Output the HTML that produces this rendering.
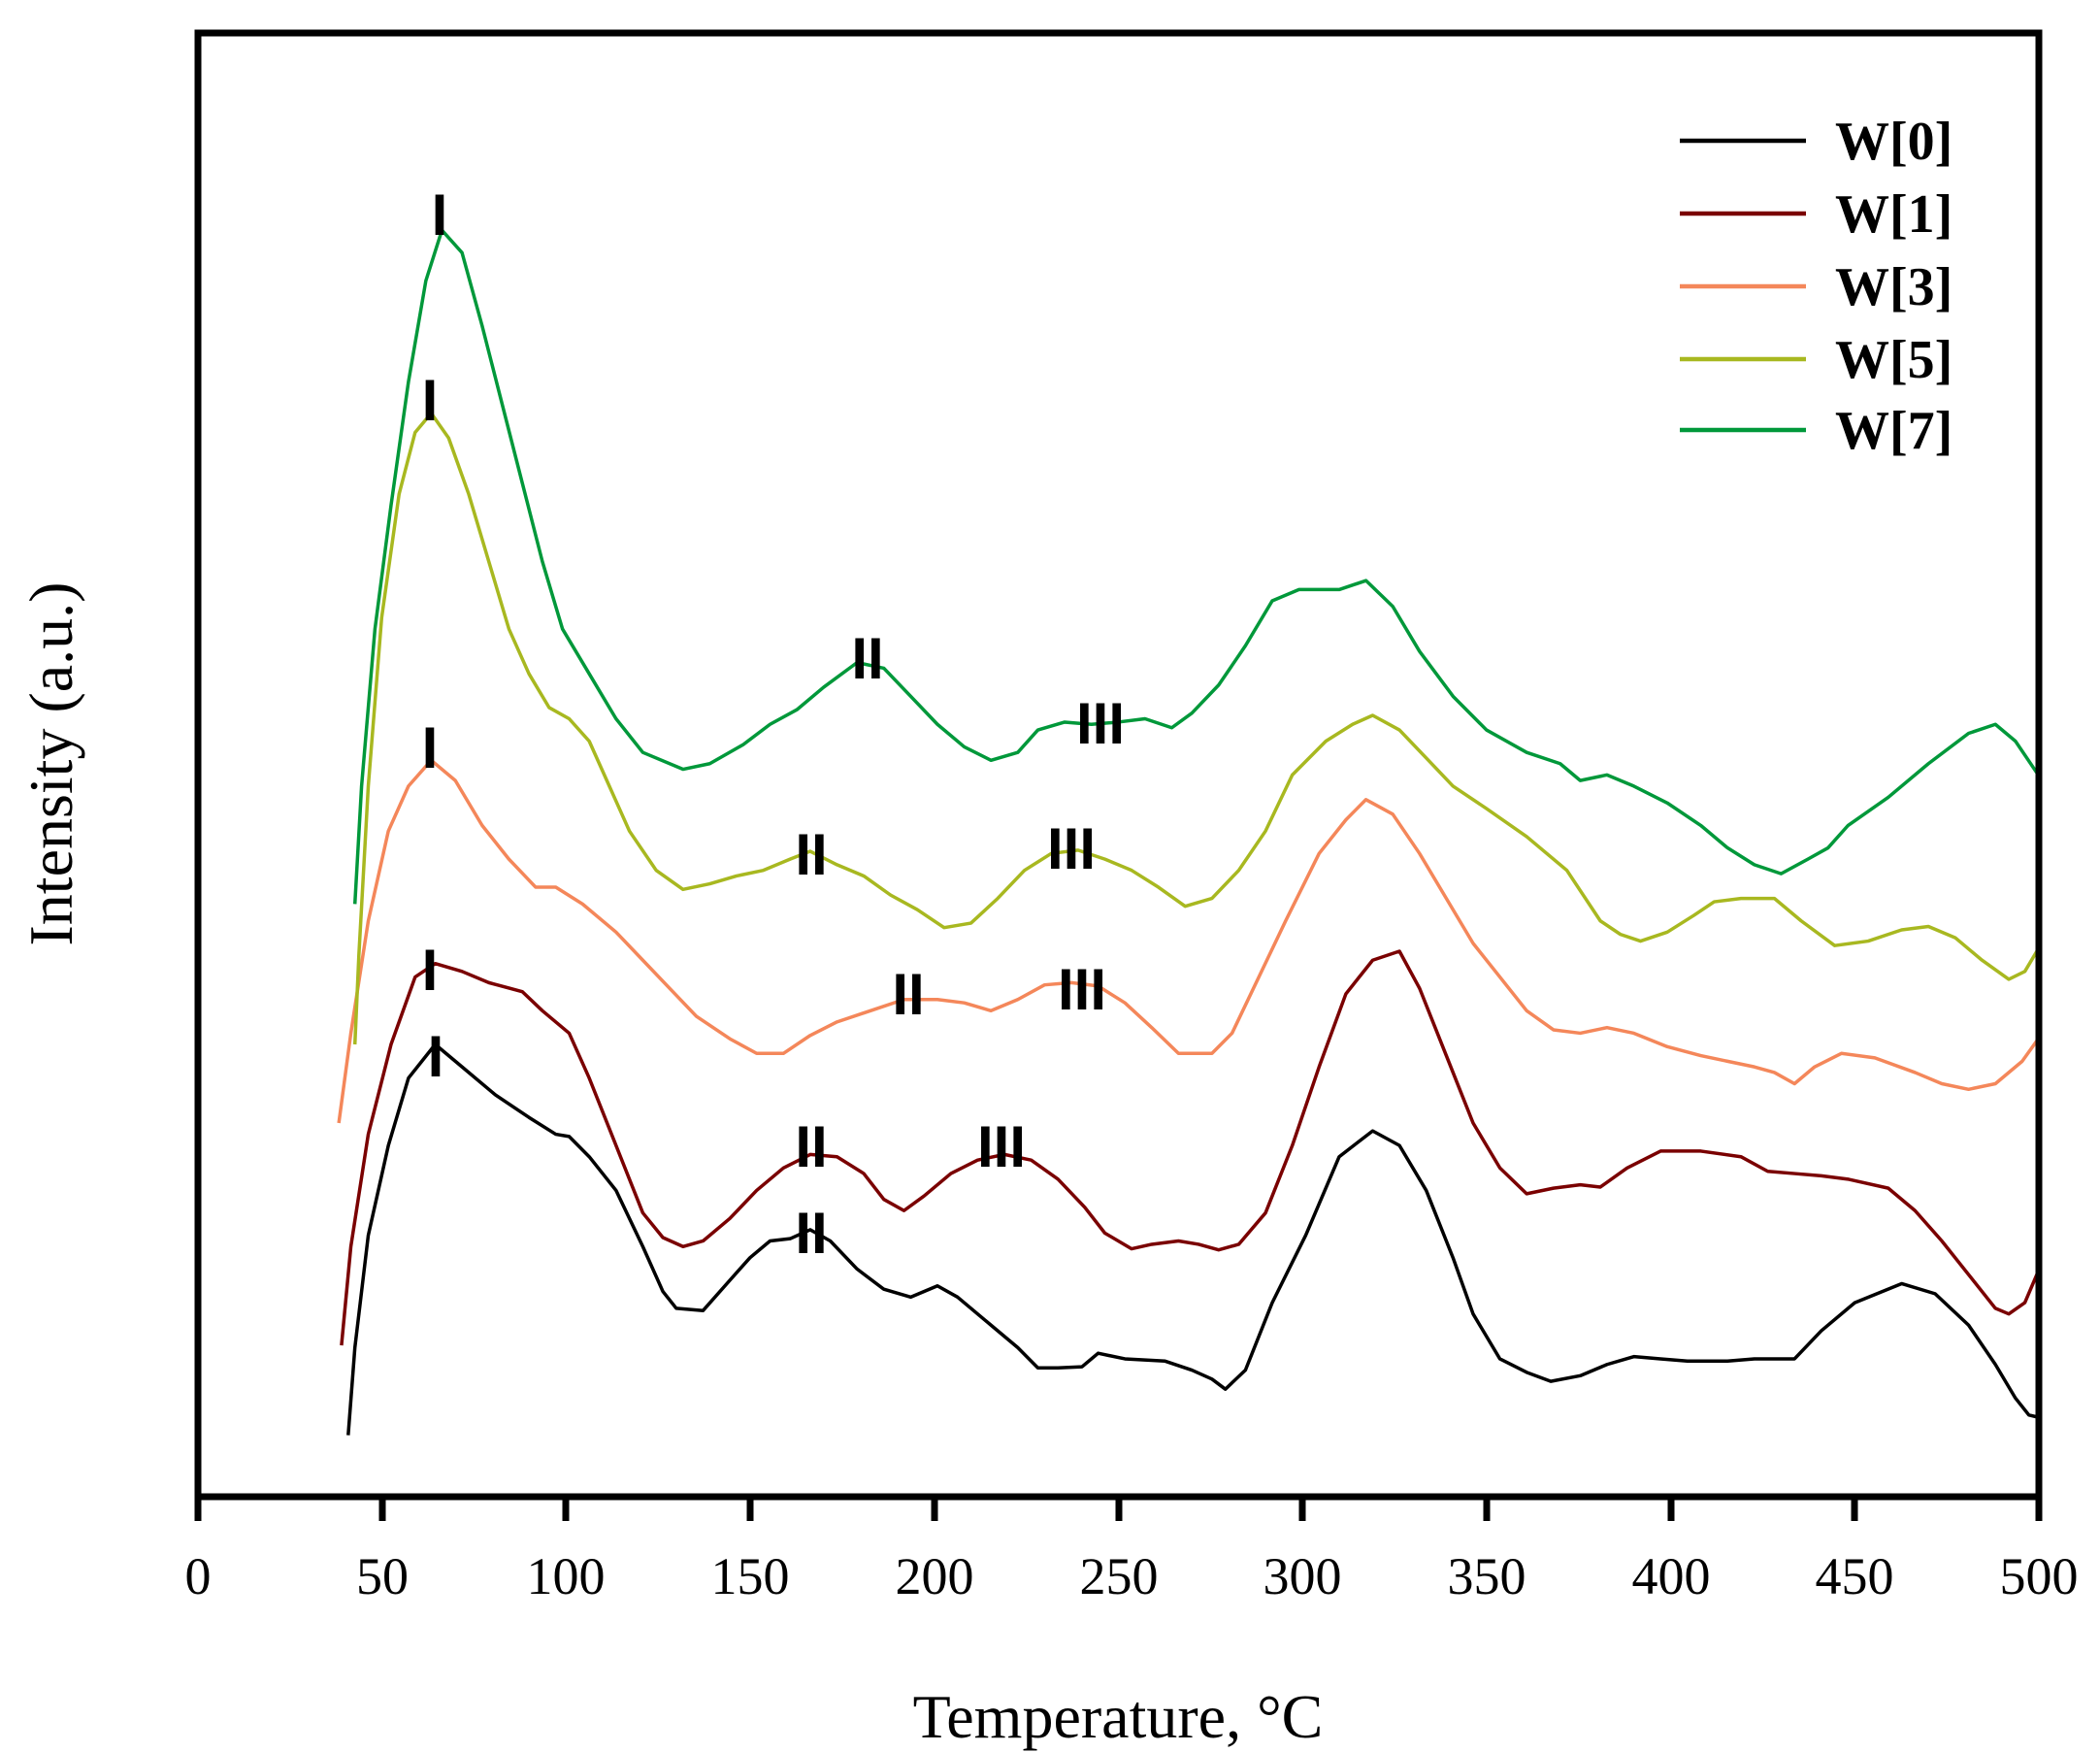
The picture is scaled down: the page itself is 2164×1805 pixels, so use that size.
<!DOCTYPE html>
<html><head><meta charset="utf-8"><style>html,body{margin:0;padding:0;background:#fff}svg{display:block}</style></head>
<body>
<svg width="2164" height="1805" viewBox="0 0 2164 1805" xmlns="http://www.w3.org/2000/svg">
<rect width="2164" height="1805" fill="#fff"/>
<g fill="none" stroke-width="3.5" stroke-linejoin="round" transform="scale(1.38,1.157)">
<polyline vector-effect="non-scaling-stroke" stroke="#000" points="260,1278 265,1200 275,1100 290,1020 305,960 325,930 345,950 370,975 395,995 415,1010 425,1012 440,1030 460,1060 480,1110 495,1150 505,1165 525,1167 545,1140 560,1120 575,1105 590,1103 605,1095 620,1105 640,1130 660,1148 680,1155 700,1145 715,1155 740,1180 760,1200 775,1218 790,1218 808,1217 820,1205 840,1210 870,1212 890,1220 905,1228 915,1237 930,1220 950,1160 975,1100 1000,1030 1025,1007 1045,1020 1065,1060 1085,1120 1100,1170 1120,1210 1140,1222 1158,1230 1180,1225 1200,1215 1220,1208 1240,1210 1260,1212 1290,1212 1310,1210 1340,1210 1360,1185 1385,1160 1420,1143 1445,1152 1470,1180 1490,1215 1505,1245 1515,1260 1522,1262"/>
<polyline vector-effect="non-scaling-stroke" stroke="#7a0000" points="255,1198 262,1110 275,1010 292,930 310,870 325,858 345,865 365,875 390,883 405,900 425,920 440,960 460,1020 480,1080 495,1102 510,1110 525,1105 545,1085 565,1060 585,1040 605,1028 625,1030 645,1045 660,1068 675,1078 690,1065 710,1045 730,1033 750,1028 770,1033 790,1050 810,1075 825,1098 845,1112 860,1108 880,1105 895,1108 910,1113 925,1108 945,1080 965,1020 985,950 1005,885 1025,855 1045,847 1060,880 1080,940 1100,1000 1120,1040 1140,1063 1160,1058 1180,1055 1195,1057 1215,1040 1240,1025 1270,1025 1300,1030 1320,1043 1340,1045 1360,1047 1380,1050 1410,1058 1430,1078 1450,1105 1470,1135 1490,1165 1500,1170 1512,1160 1522,1132"/>
<polyline vector-effect="non-scaling-stroke" stroke="#f4875a" points="253,1000 262,920 275,820 290,740 305,700 322,677 340,695 360,735 380,765 400,790 415,790 435,805 460,830 480,855 500,880 520,905 545,925 565,938 585,938 605,922 625,910 650,900 675,890 700,890 720,893 740,900 760,890 780,877 800,875 820,878 840,893 860,915 880,938 905,938 920,920 940,870 960,820 985,760 1005,730 1020,712 1040,725 1060,760 1080,800 1100,840 1120,870 1140,900 1160,917 1180,920 1200,915 1220,920 1245,932 1270,940 1290,945 1310,950 1325,955 1340,965 1355,950 1375,938 1400,942 1430,955 1450,965 1470,970 1490,965 1510,945 1522,925"/>
<polyline vector-effect="non-scaling-stroke" stroke="#a8b820" points="265,930 268,850 275,700 285,550 298,440 310,385 322,368 335,390 350,440 365,500 380,560 395,600 410,630 425,640 440,660 455,700 470,740 490,775 510,792 530,787 550,780 570,775 590,765 605,758 625,770 645,780 665,797 685,810 705,826 725,822 745,800 765,775 785,760 805,757 825,765 845,775 865,790 885,807 905,800 925,775 945,740 965,690 990,660 1010,645 1025,637 1045,650 1065,675 1085,700 1110,720 1140,745 1170,775 1195,820 1210,832 1225,838 1245,830 1265,815 1280,803 1300,800 1325,800 1345,820 1370,842 1395,838 1420,828 1440,825 1460,835 1480,855 1500,872 1512,865 1522,845"/>
<polyline vector-effect="non-scaling-stroke" stroke="#00983a" points="265,805 270,700 280,560 292,450 305,340 318,250 330,205 345,225 360,290 375,360 390,430 405,500 420,560 440,600 460,640 480,670 510,685 530,680 555,663 575,645 595,632 615,612 640,590 660,595 680,620 700,645 720,665 740,677 760,670 775,650 795,643 815,645 835,643 855,640 875,648 890,635 910,610 930,575 950,535 970,525 1000,525 1020,517 1040,540 1060,580 1085,620 1110,650 1140,670 1165,680 1180,695 1200,690 1220,700 1245,715 1270,735 1290,755 1310,770 1330,778 1350,765 1365,755 1380,735 1410,710 1440,680 1470,653 1490,645 1505,660 1522,690"/>
</g>
<!-- frame -->
<rect x="204" y="34" width="1897" height="1508" fill="none" stroke="#000" stroke-width="7"/>
<g stroke="#000" stroke-width="7">
<line x1="204" y1="1542" x2="204" y2="1567"/><line x1="394" y1="1542" x2="394" y2="1567"/><line x1="583" y1="1542" x2="583" y2="1567"/><line x1="773" y1="1542" x2="773" y2="1567"/><line x1="963" y1="1542" x2="963" y2="1567"/><line x1="1153" y1="1542" x2="1153" y2="1567"/><line x1="1342" y1="1542" x2="1342" y2="1567"/><line x1="1532" y1="1542" x2="1532" y2="1567"/><line x1="1722" y1="1542" x2="1722" y2="1567"/><line x1="1911" y1="1542" x2="1911" y2="1567"/><line x1="2101" y1="1542" x2="2101" y2="1567"/>
</g>
<g font-family="Liberation Serif, serif" font-size="54" text-anchor="middle" fill="#000">
<text x="204" y="1642">0</text><text x="394" y="1642">50</text><text x="583" y="1642">100</text><text x="773" y="1642">150</text><text x="963" y="1642">200</text><text x="1153" y="1642">250</text><text x="1342" y="1642">300</text><text x="1532" y="1642">350</text><text x="1722" y="1642">400</text><text x="1911" y="1642">450</text><text x="2101" y="1642">500</text>
<text x="1152" y="1790" font-size="64">Temperature, °C</text>
<text transform="translate(74,787) rotate(-90)" font-size="64">Intensity (a.u.)</text>
</g>
<!-- legend -->
<g stroke-width="4.5">
<line x1="1731" y1="145" x2="1861" y2="145" stroke="#000"/>
<line x1="1731" y1="220" x2="1861" y2="220" stroke="#7a0000"/>
<line x1="1731" y1="295" x2="1861" y2="295" stroke="#f4875a"/>
<line x1="1731" y1="370" x2="1861" y2="370" stroke="#a8b820"/>
<line x1="1731" y1="443" x2="1861" y2="443" stroke="#00983a"/>
</g>
<g font-family="Liberation Serif, serif" font-weight="bold" font-size="56" fill="#000">
<text x="1891" y="164">W[0]</text><text x="1891" y="239">W[1]</text><text x="1891" y="314">W[3]</text><text x="1891" y="389">W[5]</text><text x="1891" y="462">W[7]</text>
</g>
<!-- peak labels -->
<g font-family="Liberation Sans, sans-serif" font-weight="bold" font-size="60" text-anchor="middle" fill="#000">
<text x="453" y="242">I</text><text x="443" y="433">I</text><text x="443" y="791">I</text><text x="443" y="1020">I</text><text x="449" y="1109">I</text>
<text x="894" y="699">II</text><text x="836" y="901">II</text><text x="936" y="1045">II</text><text x="836" y="1202">II</text><text x="836" y="1291">II</text>
<text x="1134" y="766">III</text><text x="1104" y="895">III</text><text x="1115" y="1040">III</text><text x="1032" y="1202">III</text>
</g>
</svg>
</body></html>
